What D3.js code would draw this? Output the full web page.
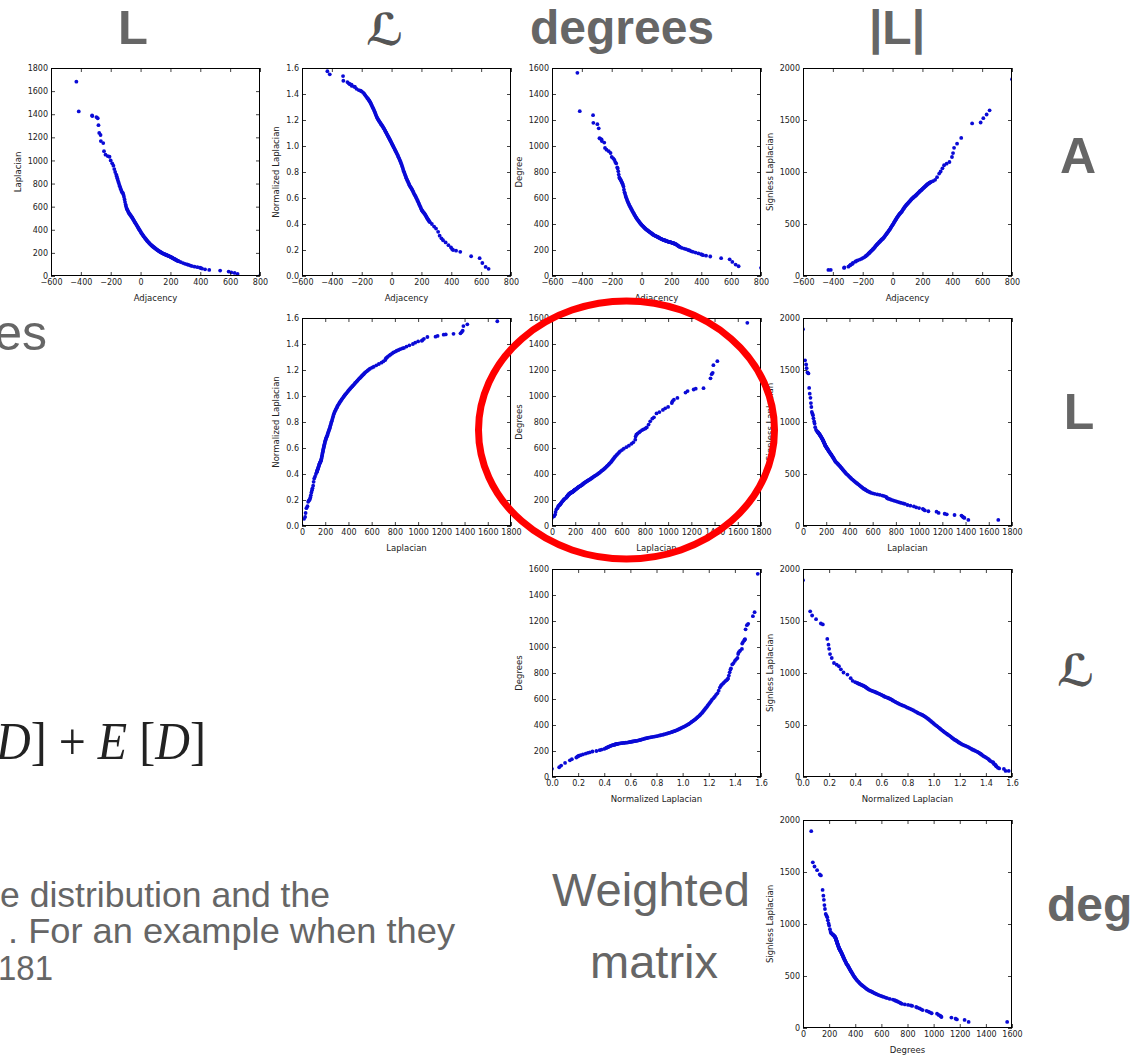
<!DOCTYPE html>
<html>
<head>
<meta charset="utf-8">
<script src="https://cdn.jsdelivr.net/npm/d3@7"></script>
<style>
  body { margin: 0; background: #fff; }
  svg { display: block; }
</style>
</head>
<body>
<div class="canva"></div>
<script>
// eigenvalue spectra, one entry per rank (sorted by adjacency eigenvalue)
const adjacency = [
  -430, -414, -325, -323, -296, -287, -282, -277, -268, -266, -250, -245, -235, -220, -208, -200, -190, -182, -176, -170,
  -163, -160, -156, -153, -149, -146, -142, -139, -135, -132, -128, -125, -121, -118, -114, -111, -107, -104, -100, -97,
  -93, -90, -86, -83, -79, -76, -72, -69, -65, -62, -58, -55, -51, -48, -44, -41, -37, -34, -30, -27,
  -23, -20, -16, -13, -9, -6, -2, 1, 5, 8, 12, 15, 19, 22, 26, 29, 33, 36, 40, 43,
  47, 50, 54, 57, 61, 64, 68, 71, 75, 78, 82, 85, 89, 92, 96, 99, 103, 106, 110, 113,
  117, 120, 124, 127, 131, 134, 138, 141, 145, 148, 152, 155, 159, 162, 166, 169, 173, 176, 180, 183,
  187, 190, 194, 197, 201, 204, 208, 211, 215, 218, 222, 225, 229, 232, 236, 239, 243, 246, 250, 253, 257,
  270, 285, 298, 312, 322, 334, 345, 362, 381, 398, 405, 412, 432, 460, 533, 590, 608, 630, 650, 800
];
const laplacian = [
  1682, 1424, 1390, 1384, 1375, 1365, 1305, 1238, 1220, 1168, 1150, 1080, 1050, 1038, 1032, 1000, 975, 955, 925, 900,
  878, 864, 846, 832, 816, 804, 788, 776, 761, 750, 736, 726, 720, 717, 700, 684, 662, 640, 618, 602,
  585, 576, 566, 557, 548, 541, 535, 528, 522, 515, 509, 502, 494, 487, 479, 471, 464, 456, 449, 441,
  434, 426, 418, 411, 403, 396, 389, 381, 373, 367, 360, 354, 347, 341, 335, 329, 323, 318, 312, 306,
  301, 296, 291, 286, 281, 276, 272, 268, 264, 260, 256, 252, 249, 245, 242, 238, 235, 231, 228, 224,
  221, 218, 215, 212, 209, 206, 204, 201, 198, 196, 194, 192, 190, 188, 186, 184, 182, 180, 178, 176,
  174, 172, 170, 168, 166, 163, 161, 158, 156, 153, 151, 148, 146, 143, 141, 138, 136, 133, 131, 129, 127,
  120, 112, 105, 100, 96, 90, 86, 81, 76, 72, 68, 64, 58, 53, 47, 38, 31, 27, 18, 0
];
const normLaplacian = [
  1.575, 1.551, 1.538, 1.502, 1.492, 1.482, 1.478, 1.474, 1.472, 1.462, 1.456, 1.454, 1.44, 1.43, 1.425, 1.42, 1.41, 1.40, 1.39, 1.38,
  1.370, 1.366, 1.360, 1.354, 1.348, 1.342, 1.335, 1.327, 1.318, 1.310, 1.300, 1.293, 1.285, 1.276, 1.266, 1.256, 1.246, 1.236, 1.225, 1.218,
  1.210, 1.203, 1.196, 1.190, 1.184, 1.178, 1.172, 1.166, 1.160, 1.154, 1.148, 1.141, 1.135, 1.128, 1.120, 1.112, 1.105, 1.098, 1.090, 1.082,
  1.075, 1.068, 1.060, 1.052, 1.045, 1.037, 1.028, 1.020, 1.012, 1.004, 0.996, 0.988, 0.980, 0.972, 0.964, 0.956, 0.948, 0.940, 0.932, 0.923,
  0.914, 0.905, 0.895, 0.886, 0.877, 0.866, 0.855, 0.843, 0.830, 0.818, 0.805, 0.795, 0.784, 0.773, 0.762, 0.752, 0.742, 0.733, 0.725, 0.716,
  0.708, 0.699, 0.690, 0.684, 0.678, 0.671, 0.664, 0.656, 0.648, 0.639, 0.630, 0.623, 0.617, 0.608, 0.600, 0.592, 0.584, 0.575, 0.565, 0.556,
  0.547, 0.538, 0.530, 0.520, 0.510, 0.504, 0.498, 0.493, 0.488, 0.483, 0.478, 0.472, 0.465, 0.458, 0.450, 0.444, 0.437, 0.431, 0.425, 0.420, 0.414,
  0.40, 0.38, 0.365, 0.34, 0.31, 0.29, 0.275, 0.258, 0.237, 0.22, 0.207, 0.2, 0.195, 0.186, 0.152, 0.137, 0.10, 0.07, 0.055, 0.0
];
const degrees = [
  1563, 1268, 1237, 1178, 1168, 1136, 1060, 1056, 1050, 1038, 1026, 985, 972, 960, 946, 916, 905, 893, 876, 866,
  836, 826, 805, 780, 758, 750, 744, 738, 728, 720, 710, 702, 688, 664, 644, 632, 618, 606, 595, 584,
  574, 564, 555, 547, 538, 531, 523, 516, 508, 500, 493, 486, 479, 472, 465, 458, 451, 445, 439, 433,
  428, 423, 417, 411, 406, 401, 397, 392, 388, 384, 380, 376, 372, 368, 364, 360, 357, 354, 351, 348,
  345, 342, 339, 336, 333, 330, 327, 324, 321, 318, 315, 313, 311, 309, 307, 305, 303, 301, 299, 297,
  295, 292, 290, 288, 286, 284, 282, 280, 278, 277, 276, 274, 273, 271, 270, 268, 267, 265, 264, 263,
  262, 261, 260, 258, 257, 255, 254, 253, 252, 250, 249, 247, 245, 243, 240, 237, 234, 231, 228, 226, 223,
  216, 211, 206, 200, 196, 190, 186, 180, 174, 168, 164, 160, 156, 150, 137, 128, 108, 88, 75, 63
];
const signless = [
  58, 58, 78, 82, 90, 100, 106, 112, 118, 126, 138, 142, 150, 158, 165, 172, 180, 188, 195, 202,
  212, 217, 222, 227, 232, 237, 242, 247, 252, 257, 262, 267, 273, 280, 288, 293, 299, 304, 309, 314,
  319, 325, 330, 335, 341, 346, 351, 355, 359, 365, 371, 377, 384, 391, 398, 405, 412, 418, 425, 432,
  439, 446, 454, 462, 470, 478, 487, 494, 502, 510, 519, 527, 536, 544, 553, 560, 568, 575, 582, 589,
  596, 601, 607, 612, 618, 626, 634, 642, 650, 657, 664, 670, 677, 683, 688, 694, 699, 705, 711, 716,
  722, 728, 734, 739, 744, 748, 753, 757, 762, 766, 770, 774, 779, 784, 790, 795, 800, 805, 810, 815,
  820, 824, 828, 833, 838, 843, 848, 852, 857, 861, 866, 871, 876, 880, 884, 888, 891, 895, 898, 901, 905,
  912, 925, 950, 985, 1005, 1035, 1065, 1080, 1096, 1144, 1182, 1232, 1272, 1328, 1467, 1476, 1518, 1553, 1593, 1893
];

// axis ticks
const adjTicks = [-600, -400, -200, 0, 200, 400, 600, 800];
const lapTicks = [0, 200, 400, 600, 800, 1000, 1200, 1400, 1600, 1800];
const normTicks = [0, 0.2, 0.4, 0.6, 0.8, 1.0, 1.2, 1.4, 1.6];
const degTicks = [0, 200, 400, 600, 800, 1000, 1200, 1400, 1600];
const signTicks = [0, 500, 1000, 1500, 2000];

const measures = {
  adj:  { values: adjacency,     domain: [-600, 800], ticks: adjTicks,  fmt: d3.format('d'),   label: 'Adjacency' },
  lap:  { values: laplacian,     domain: [0, 1800],   ticks: lapTicks,  fmt: d3.format('d'),   label: 'Laplacian' },
  norm: { values: normLaplacian, domain: [0, 1.6],    ticks: normTicks, fmt: d3.format('.1f'), label: 'Normalized Laplacian' },
  deg:  { values: degrees,       domain: [0, 1600],   ticks: degTicks,  fmt: d3.format('d'),   label: 'Degrees' },
  sign: { values: signless,      domain: [0, 2000],   ticks: signTicks, fmt: d3.format('d'),   label: 'Signless Laplacian' }
};

const panels = [
  { row: 0, col: 0, x: 'adj',  y: 'lap',  ylab: 'Laplacian' },
  { row: 0, col: 1, x: 'adj',  y: 'norm', ylab: 'Normalized Laplacian' },
  { row: 0, col: 2, x: 'adj',  y: 'deg',  ylab: 'Degree' },
  { row: 0, col: 3, x: 'adj',  y: 'sign', ylab: 'Signless Laplacian' },
  { row: 1, col: 1, x: 'lap',  y: 'norm', ylab: 'Normalized Laplacian' },
  { row: 1, col: 2, x: 'lap',  y: 'deg',  ylab: 'Degrees' },
  { row: 1, col: 3, x: 'lap',  y: 'sign', ylab: 'Signless Laplacian' },
  { row: 2, col: 2, x: 'norm', y: 'deg',  ylab: 'Degrees' },
  { row: 2, col: 3, x: 'norm', y: 'sign', ylab: 'Signless Laplacian' },
  { row: 3, col: 3, x: 'deg',  y: 'sign', ylab: 'Signless Laplacian' }
];

const colX = [51, 302, 552, 803];
const rowY = [68, 318, 569, 820];
const W = 209, H = 208;
const tickFont = 'DejaVu Sans';

const svg = d3.select('.canva').append('svg')
  .attr('width', 1137)
  .attr('height', 1055);

svg.append('rect').attr('width', 1137).attr('height', 1055).attr('fill', '#fff');

panels.forEach((p, k) => {
  const mx = measures[p.x], my = measures[p.y];
  const g = svg.append('g').attr('transform', `translate(${colX[p.col]},${rowY[p.row]})`);
  const xs = d3.scaleLinear().domain(mx.domain).range([0, W]);
  const ys = d3.scaleLinear().domain(my.domain).range([H, 0]);

  g.append('clipPath').attr('id', 'clip' + k)
    .append('rect').attr('width', W).attr('height', H);

  g.append('g').attr('clip-path', `url(#clip${k})`)
    .selectAll('circle')
    .data(d3.range(mx.values.length))
    .join('circle')
      .attr('cx', i => xs(mx.values[i]))
      .attr('cy', i => ys(my.values[i]))
      .attr('r', 1.9)
      .attr('fill', '#0a0ad6');

  // ticks inside on all four sides, labels on bottom and left only
  const styleAxis = a => {
    a.select('.domain').remove();
    a.selectAll('line').attr('stroke', '#111').attr('stroke-width', 0.8);
    a.selectAll('text').attr('font-family', tickFont).attr('font-size', 8).attr('fill', '#222');
  };
  g.append('g').attr('transform', `translate(0,${H})`)
    .call(d3.axisBottom(xs).tickValues(mx.ticks).tickFormat(mx.fmt).tickSizeInner(-4).tickSizeOuter(0).tickPadding(3))
    .call(styleAxis);
  g.append('g')
    .call(d3.axisTop(xs).tickValues(mx.ticks).tickFormat('').tickSizeInner(-4).tickSizeOuter(0))
    .call(styleAxis);
  const yAxis = g.append('g')
    .call(d3.axisLeft(ys).tickValues(my.ticks).tickFormat(my.fmt).tickSizeInner(-4).tickSizeOuter(0).tickPadding(3))
    .call(styleAxis);
  g.append('g').attr('transform', `translate(${W},0)`)
    .call(d3.axisRight(ys).tickValues(my.ticks).tickFormat('').tickSizeInner(-4).tickSizeOuter(0))
    .call(styleAxis);

  g.append('rect')
    .attr('x', 0.5).attr('y', 0.5).attr('width', W - 1).attr('height', H - 1)
    .attr('fill', 'none').attr('stroke', '#000').attr('stroke-width', 1);

  let maxw = 0;
  yAxis.selectAll('text').each(function () { maxw = Math.max(maxw, this.getComputedTextLength()); });

  g.append('text')
    .attr('x', W / 2).attr('y', H + 25)
    .attr('text-anchor', 'middle')
    .attr('font-family', tickFont).attr('font-size', 8.5).attr('fill', '#222')
    .text(mx.label);

  g.append('text')
    .attr('transform', `translate(${-(3 + maxw + 7)},${H / 2}) rotate(-90)`)
    .attr('text-anchor', 'middle')
    .attr('font-family', tickFont).attr('font-size', 8.5).attr('fill', '#222')
    .text(p.ylab);
});

// slide text around the grid
const slide = svg.append('g').attr('fill', '#666').attr('font-family', 'Liberation Sans, Arial, sans-serif');

const headers = [
  { t: 'L', x: 133, y: 44, size: 49 },
  { t: 'degrees', x: 622, y: 44, size: 48 },
  { t: '|L|', x: 897, y: 44, size: 48 },
  { t: 'A', x: 1078, y: 173, size: 50 },
  { t: 'L', x: 1079, y: 429, size: 50 }
];
headers.forEach(h => {
  slide.append('text')
    .attr('x', h.x).attr('y', h.y)
    .attr('text-anchor', 'middle')
    .attr('font-size', h.size)
    .attr('font-weight', 'bold')
    .text(h.t);
});

[{ x: 385, y: 45 }, { x: 1076, y: 686 }].forEach(s => {
  slide.append('text')
    .attr('x', s.x).attr('y', s.y)
    .attr('text-anchor', 'middle')
    .attr('font-family', 'DejaVu Sans')
    .attr('font-weight', 'bold')
    .attr('font-size', 44)
    .attr('fill', '#555')
    .text('\u2112');
});

slide.append('text').attr('x', 1047).attr('y', 921)
  .attr('font-size', 48).attr('font-weight', 'bold').text('deg');

slide.append('text').attr('x', 47).attr('y', 350)
  .attr('text-anchor', 'end').attr('font-size', 50).text('es');

slide.append('text').attr('x', 552).attr('y', 906)
  .attr('font-size', 47).attr('textLength', 198).attr('lengthAdjust', 'spacingAndGlyphs').text('Weighted');
slide.append('text').attr('x', 590).attr('y', 978)
  .attr('font-size', 47).attr('textLength', 128).attr('lengthAdjust', 'spacingAndGlyphs').text('matrix');

const para = [
  { t: 'e distribution and the', x: 0, y: 907, w: 330 },
  { t: '. For an example when they', x: 8, y: 943, w: 447 },
  { t: '181', x: -2, y: 980, w: 55 }
];
para.forEach(l => {
  slide.append('text').attr('x', l.x).attr('y', l.y).attr('font-size', 35)
    .attr('textLength', l.w).attr('lengthAdjust', 'spacingAndGlyphs')
    .text(l.t);
});

// formula fragment
const formula = svg.append('text')
  .attr('x', -4).attr('y', 759)
  .attr('font-family', 'Liberation Serif, DejaVu Serif, serif')
  .attr('font-size', 52)
  .attr('fill', '#222')
  .attr('textLength', 210).attr('lengthAdjust', 'spacingAndGlyphs');
formula.append('tspan').attr('font-style', 'italic').text('D');
formula.append('tspan').text('] + ');
formula.append('tspan').attr('font-style', 'italic').text('E');
formula.append('tspan').text(' [');
formula.append('tspan').attr('font-style', 'italic').text('D');
formula.append('tspan').text(']');

// red highlight ring
svg.append('ellipse')
  .attr('cx', 626.5).attr('cy', 430)
  .attr('rx', 148).attr('ry', 129)
  .attr('fill', 'none')
  .attr('stroke', '#f00')
  .attr('stroke-width', 7);
</script>
</body>
</html>
